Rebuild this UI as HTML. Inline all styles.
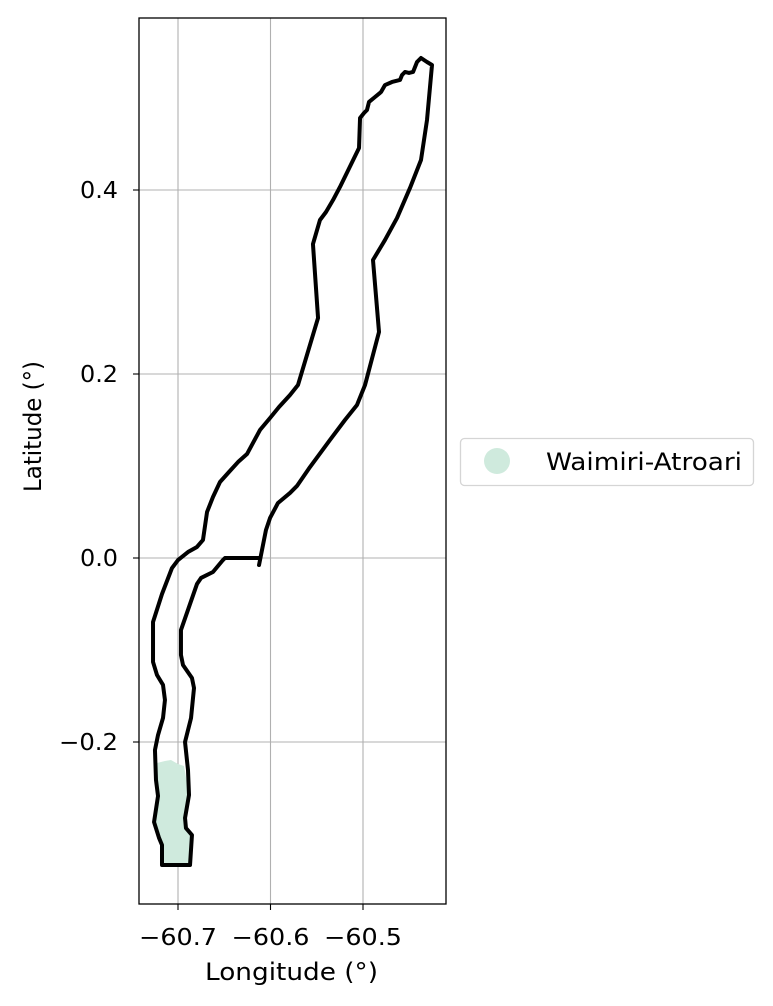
<!DOCTYPE html>
<html><head><meta charset="utf-8"><style>
html,body{margin:0;padding:0;background:#fff;}
svg{display:block;font-family:"DejaVu Sans","Liberation Sans",sans-serif;}
</style></head><body>
<svg id="chart" width="773" height="1006" viewBox="0 0 773 1006">
<g id="grid"></g>
<g id="fill"></g>
<g id="outline"></g>
<rect x="139" y="18" width="307" height="886" fill="none" stroke="#000" stroke-width="1.3"/>
<g id="ticks"></g>
<text x="205" y="980" font-size="24" textLength="173" lengthAdjust="spacingAndGlyphs">Longitude (°)</text>
<text transform="translate(41,492) rotate(-90)" font-size="24" textLength="131" lengthAdjust="spacingAndGlyphs">Latitude (°)</text>
<g>
<rect x="460.5" y="438.5" width="293" height="47" rx="4" fill="#fff" stroke="#d5d5d5" stroke-width="1.3"/>
<circle cx="497" cy="461" r="13" fill="#cfeadd"/>
<text x="546" y="470" font-size="24" textLength="196" lengthAdjust="spacingAndGlyphs">Waimiri-Atroari</text>
</g>
</svg>
<script>
const outlineLon=[-60.6114,-60.6492,-60.6514,-60.6622,-60.6751,-60.6795,-60.6968,-60.6968,-60.6946,-60.6849,-60.6827,-60.6859,-60.6924,-60.6892,-60.6881,-60.6924,-60.6914,-60.6849,-60.6870,-60.7173,-60.7173,-60.7205,-60.7259,-60.7216,-60.7238,-60.7249,-60.7216,-60.7162,-60.7141,-60.7162,-60.7227,-60.7270,-60.7270,-60.7173,-60.7065,-60.7,-60.6892,-60.6795,-60.6730,-60.6686,-60.6622,-60.6546,-60.6449,-60.6351,-60.6254,-60.6114,-60.6005,-60.5908,-60.5789,-60.5703,-60.5486,-60.5541,-60.5465,-60.5400,-60.5324,-60.5249,-60.5043,-60.5032,-60.4989,-60.4957,-60.4935,-60.4870,-60.4805,-60.4762,-60.4686,-60.4600,-60.4578,-60.4546,-60.4503,-60.4459,-60.4416,-60.4373,-60.4308,-60.4254,-60.4308,-60.4373,-60.4492,-60.4632,-60.4762,-60.4892,-60.4827,-60.4978,-60.5065,-60.5195,-60.5357,-60.5573,-60.5714,-60.5789,-60.5919,-60.6005,-60.6049,-60.6124];
const outlineLat=[0,0,-0.0022,-0.0152,-0.0217,-0.0283,-0.0783,-0.1054,-0.1163,-0.1304,-0.1413,-0.1739,-0.2,-0.2304,-0.2576,-0.2826,-0.2935,-0.3011,-0.3337,-0.3337,-0.3120,-0.3043,-0.2870,-0.2587,-0.2413,-0.2087,-0.1924,-0.1739,-0.1543,-0.1380,-0.1272,-0.1130,-0.0696,-0.0391,-0.0109,-0.0022,0.0065,0.0120,0.0196,0.05,0.0663,0.0826,0.0935,0.1043,0.1130,0.1391,0.1522,0.1641,0.1772,0.1880,0.2609,0.3413,0.3674,0.3761,0.3891,0.4033,0.4457,0.4783,0.4837,0.4870,0.4957,0.5011,0.5065,0.5141,0.5174,0.5196,0.5250,0.5283,0.5272,0.5283,0.5391,0.5435,0.5391,0.5359,0.4761,0.4326,0.4022,0.3696,0.3457,0.3239,0.2457,0.1880,0.1663,0.15,0.1283,0.0989,0.0783,0.0707,0.0598,0.0435,0.0304,-0.0076];
const fillLon=[-60.7227,-60.7141,-60.7076,-60.7,-60.6935,-60.6881,-60.6914,-60.6849,-60.6870,-60.7173,-60.7173,-60.7205,-60.7259,-60.7216,-60.7238];
const fillLat=[-0.2228,-0.2207,-0.2196,-0.2239,-0.2261,-0.2576,-0.2935,-0.3011,-0.3337,-0.3337,-0.3120,-0.3043,-0.2870,-0.2587,-0.2413];
const xTicks=[-60.7,-60.6,-60.5];
const xTickLabels=["\u221260.7","\u221260.6","\u221260.5"];
const yTicks=[-0.2,0.0,0.2,0.4];
const yTickLabels=["\u22120.2","0.0","0.2","0.4"];

const NS="http://www.w3.org/2000/svg";
const L=139,R=446,T=18,B=904;
function sx(v){return 178+(v+60.7)*925;}
function sy(v){return 558-v*920;}
function mk(tag,attrs,parent){const e=document.createElementNS(NS,tag);for(const k in attrs)e.setAttribute(k,attrs[k]);parent.appendChild(e);return e;}
const grid=document.getElementById('grid'),ticks=document.getElementById('ticks');
xTicks.forEach((v,i)=>{
  const x=sx(v);
  const g=mk('line',{x1:x,x2:x,y1:T,y2:B,stroke:'#b0b0b0','stroke-width':1.1},grid);
  
  
  const t=mk('line',{x1:x,x2:x,y1:B,y2:B+6,stroke:'#000','stroke-width':1.1},ticks);
  
  
  const w=78;
  const l=mk('text',{x:x-w/2,y:B+41,'font-size':23,textLength:w,lengthAdjust:'spacingAndGlyphs'},ticks);
  l.textContent=xTickLabels[i];
  
  
});
yTicks.forEach((v,i)=>{
  const y=sy(v);
  const g=mk('line',{x1:L,x2:R,y1:y,y2:y,stroke:'#b0b0b0','stroke-width':1.1},grid);
  
  
  const t=mk('line',{x1:L-6,x2:L,y1:y,y2:y,stroke:'#000','stroke-width':1.1},ticks);
  
  
  const w=yTickLabels[i].indexOf('\u2212')>=0?59:38;
  const l=mk('text',{x:118-w,y:y+8,'font-size':23,textLength:w,lengthAdjust:'spacingAndGlyphs'},ticks);
  l.textContent=yTickLabels[i];
  
  
});
const fp=mk('polygon',{points:fillLon.map((v,i)=>sx(v)+','+sy(fillLat[i])).join(' '),fill:'#cfeadd'},document.getElementById('fill'));


const op=mk('polyline',{points:outlineLon.map((v,i)=>sx(v)+','+sy(outlineLat[i])).join(' '),fill:'none',stroke:'#000','stroke-width':4,'stroke-linejoin':'round','stroke-linecap':'round'},document.getElementById('outline'));


</script>
</body></html>
